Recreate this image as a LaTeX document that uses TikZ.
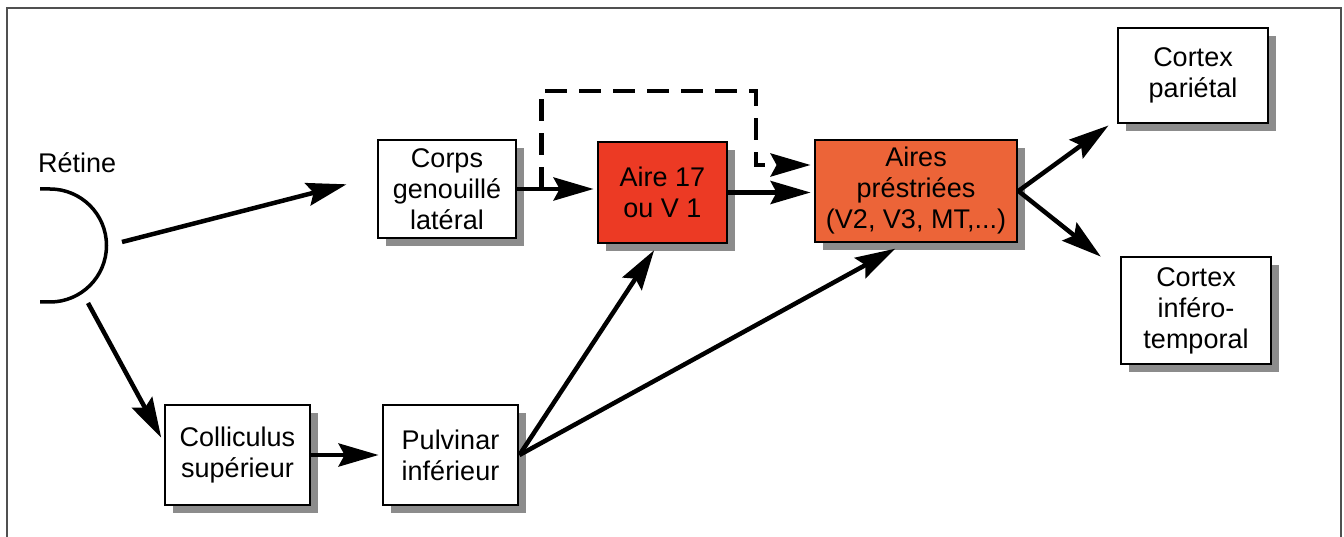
\documentclass[tikz,border=0pt]{standalone}
\usepackage{fontspec}
\setmainfont{Liberation Sans}
\usetikzlibrary{arrows.meta,shadows,calc}
\definecolor{redA}{HTML}{EC3A24}
\definecolor{redB}{HTML}{EC6438}
\definecolor{framec}{HTML}{505050}
\tikzset{
  box/.style={draw=black, line width=2.8pt, fill=white, align=center,
    font=\fontsize{27}{31}\selectfont, inner sep=0pt,
    drop shadow={shadow xshift=8pt, shadow yshift=-8pt, fill=black!45, opacity=1}},
  tip/.style={-{Stealth[length=40pt,width=23pt,inset=6pt]}},
  conn/.style={line width=4.5pt, tip},
  dashconn/.style={line width=4.5pt, dash pattern=on 22pt off 12pt, tip}
}
\begin{document}
\begin{tikzpicture}[x=1pt,y=-1pt]
\useasboundingbox (0,0) rectangle (1344,537);
\fill[white] (0,0) rectangle (1344,537);
\draw[line width=2.5pt, framec] (7,537) -- (7,8) -- (1341,8) -- (1341,537);

% nodes
\node[box, minimum width=138pt, minimum height=98pt] (corps) at (447,189) {Corps\\genouillé\\latéral};
\node[box, fill=redA, minimum width=129pt, minimum height=101pt] (aire17) at (662.5,192.5) {Aire 17\\ou V 1};
\node[box, fill=redB, minimum width=202pt, minimum height=102pt] (aires) at (916,191) {Aires\\préstriées\\(V2, V3, MT,...)};
\node[box, minimum width=150pt, minimum height=95pt] (pariet) at (1193,75.5) {Cortex\\pariétal};
\node[box, minimum width=150pt, minimum height=107pt] (infero) at (1196,310.5) {Cortex\\inféro-\\temporal};
\node[box, minimum width=145pt, minimum height=100pt] (coll) at (237.5,455) {Colliculus\\supérieur};
\node[box, minimum width=135pt, minimum height=100pt] (pulv) at (450.5,455) {Pulvinar\\inférieur};

\node[anchor=base west, inner sep=0pt, font=\fontsize{27}{31}\selectfont] (retlabel) at (38,173) {Rétine};

% retina
\draw[line width=3.5pt] (40,189) -- (50,189) arc[start angle=-90, end angle=90, radius=56.5] -- (40,302);
\coordinate (r1) at (122,242);
\coordinate (r2) at (88,303);
\coordinate (dtop) at (756,91);

% connectors
\draw[conn, shorten >=31pt] (r1) -- (corps.170);
\draw[conn, shorten >=5pt] (r2) -- (coll.170);
\draw[conn, shorten >=3pt] (coll.east) -- (coll.east -| pulv.west);
\draw[conn, shorten >=3pt] (corps.east) -- (corps.east -| aire17.west);
\draw[conn, shorten >=3pt] (aire17.east) -- (aire17.east -| aires.west);
\draw[dashconn, shorten >=3pt] ([xshift=24pt]corps.east) |- (dtop) |- ([yshift=26pt]aires.west);
\draw[conn, shorten >=7pt] (pulv.east) -- (aire17.265);
\draw[conn, shorten >=11pt] (pulv.east) -- (aires.258);
\draw[conn, shorten >=10pt] (aires.east) -- (pariet.210);
\draw[conn, shorten >=24pt] (aires.east) -- (infero.153);
\end{tikzpicture}
\end{document}
